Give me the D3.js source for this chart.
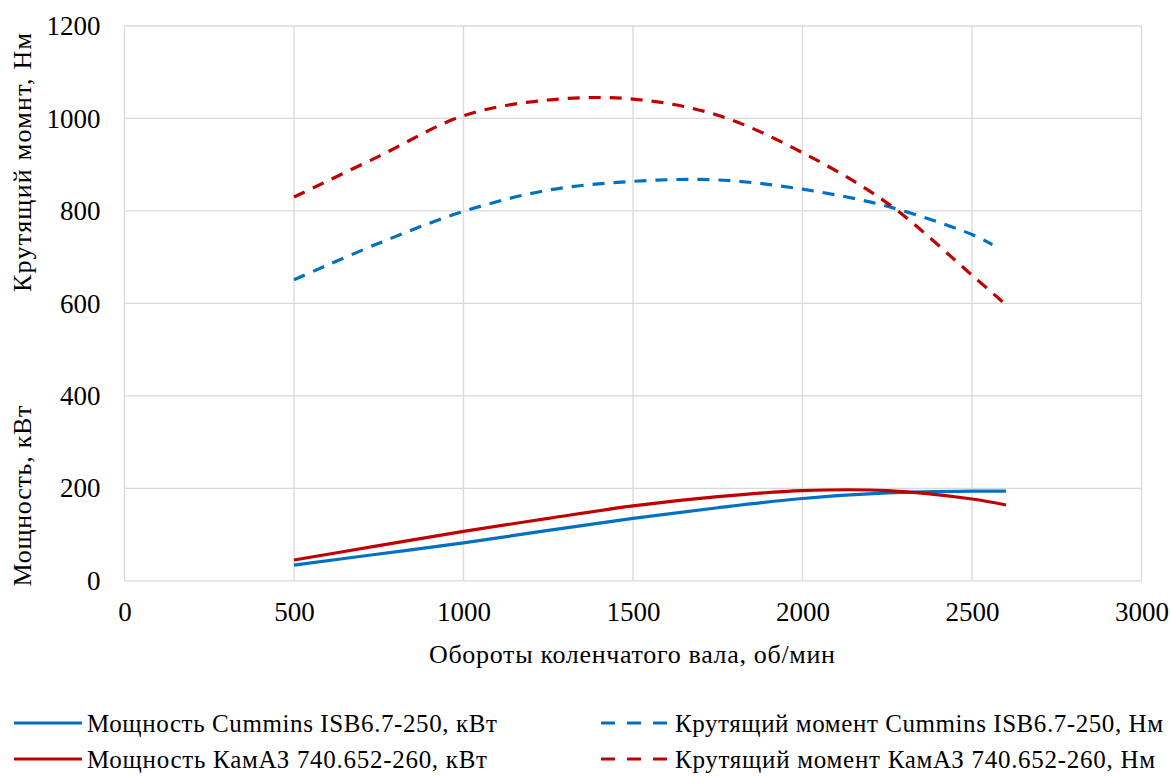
<!DOCTYPE html>
<html><head><meta charset="utf-8">
<script src="https://cdn.jsdelivr.net/npm/d3@7"></script>
<style>
body{margin:0;background:#fff}
#c text{font-family:'Liberation Serif','Times New Roman',serif}
</style>
</head><body><svg id="c" width="1171" height="776" font-family="Liberation Serif"></svg>
<script>
const rpm = [500, 750, 1000, 1250, 1500, 1750, 2000, 2250, 2500, 2600];
const powerCummins = [34, 58, 82, 109, 135, 158, 178, 190, 194, 194];
const powerKamaz = [45, 76, 107, 135, 162, 182, 195, 195, 177, 164];
const rpmTorqueCummins = [500, 750, 1000, 1250, 1500, 1750, 2000, 2250, 2500, 2560];
const torqueCummins = [651, 730, 799, 845, 864, 867, 847, 810, 749, 727];
const torqueKamaz = [830, 918, 1006, 1040, 1042, 1007, 926, 817, 661, 597];
const xTicks = [0, 500, 1000, 1500, 2000, 2500, 3000];
const yTicks = [0, 200, 400, 600, 800, 1000, 1200];
const seriesNames = ["Мощность Cummins ISB6.7-250, кВт", "Крутящий момент Cummins ISB6.7-250, Нм",
  "Мощность КамАЗ 740.652-260, кВт", "Крутящий момент КамАЗ 740.652-260, Нм"];
const xTitle = "Обороты коленчатого вала, об/мин";
const yTitleTop = "Крутящий момнт, Нм";
const yTitleBottom = "Мощность, кВт";

const FONT = "Liberation Serif";
const blue = "#0070C0", red = "#C00000";
const svg = d3.select("#c");
const L = 124.5, R = 1141.5, T = 26, B = 580.8;
const x = d3.scaleLinear().domain([0, 3000]).range([L, R]);
const y = d3.scaleLinear().domain([0, 1200]).range([B, T]);

const g = svg.append("g");
g.selectAll(".gx").data(xTicks).join("line")
  .attr("x1", d => x(d)).attr("x2", d => x(d)).attr("y1", T).attr("y2", B)
  .attr("stroke", "#d9d9d9").attr("stroke-width", 1.3);
g.selectAll(".gy").data(yTicks).join("line")
  .attr("y1", d => y(d)).attr("y2", d => y(d)).attr("x1", L).attr("x2", R)
  .attr("stroke", "#d9d9d9").attr("stroke-width", 1.3);

const xAxis = svg.append("g").attr("transform", `translate(0,${B})`)
  .call(d3.axisBottom(x).tickValues(xTicks).tickSize(0).tickPadding(21).tickFormat(d3.format("d")));
xAxis.attr("font-family", FONT).attr("font-size", 27).select(".domain").remove();
xAxis.selectAll("text").attr("fill", "#000").style("font-family", FONT);
const yAxis = svg.append("g").attr("transform", `translate(${L},0)`)
  .call(d3.axisLeft(y).tickValues(yTicks).tickSize(0).tickPadding(24).tickFormat(d3.format("d")));
yAxis.attr("font-family", FONT).attr("font-size", 27).select(".domain").remove();
yAxis.selectAll("text").attr("fill", "#000").style("font-family", FONT);

function txt(sel) { return sel.attr("font-family", FONT).style("font-family", FONT).attr("fill", "#000"); }
txt(svg.append("text")).attr("x", 632).attr("y", 663).attr("text-anchor", "middle")
  .attr("font-size", 26).attr("textLength", 406).text(xTitle);
txt(svg.append("text")).attr("transform", `translate(31,162.5) rotate(-90)`)
  .attr("text-anchor", "middle").attr("font-size", 26).attr("textLength", 259).text(yTitleTop);
txt(svg.append("text")).attr("transform", `translate(31,496) rotate(-90)`)
  .attr("text-anchor", "middle").attr("font-size", 26).attr("textLength", 181).text(yTitleBottom);

const line = d3.line().x(d => x(d[0])).y(d => y(d[1])).curve(d3.curveCatmullRom.alpha(0.5));
const series = [
  { xs: rpm, ys: powerCummins, color: blue, dash: null },
  { xs: rpmTorqueCummins, ys: torqueCummins, color: blue, dash: "12 9" },
  { xs: rpm, ys: powerKamaz, color: red, dash: null },
  { xs: rpm, ys: torqueKamaz, color: red, dash: "12 9" }
];
[series[1], series[3], series[0], series[2]].forEach(s => {
  svg.append("path").datum(s.xs.map((v, i) => [v, s.ys[i]]))
    .attr("d", line).attr("fill", "none").attr("stroke", s.color)
    .attr("stroke-width", 3.2).attr("stroke-dasharray", s.dash);
});

const legend = [
  { lx: 14, lw: 68, tx: 87, ly: 723, tl: 410 },
  { lx: 601, lw: 66, tx: 675, ly: 723, tl: 488 },
  { lx: 14, lw: 68, tx: 87, ly: 759, tl: 400 },
  { lx: 601, lw: 66, tx: 675, ly: 759, tl: 480 }
];
series.forEach((s, i) => {
  const p = legend[i];
  svg.append("line").attr("x1", p.lx).attr("x2", p.lx + p.lw).attr("y1", p.ly).attr("y2", p.ly)
    .attr("stroke", s.color).attr("stroke-width", 3.2)
    .attr("stroke-dasharray", s.dash ? "14 12" : null);
  txt(svg.append("text")).attr("x", p.tx).attr("y", p.ly + 8.5).attr("font-size", 25)
    .attr("textLength", p.tl).text(seriesNames[i]);
});
</script></body></html>
